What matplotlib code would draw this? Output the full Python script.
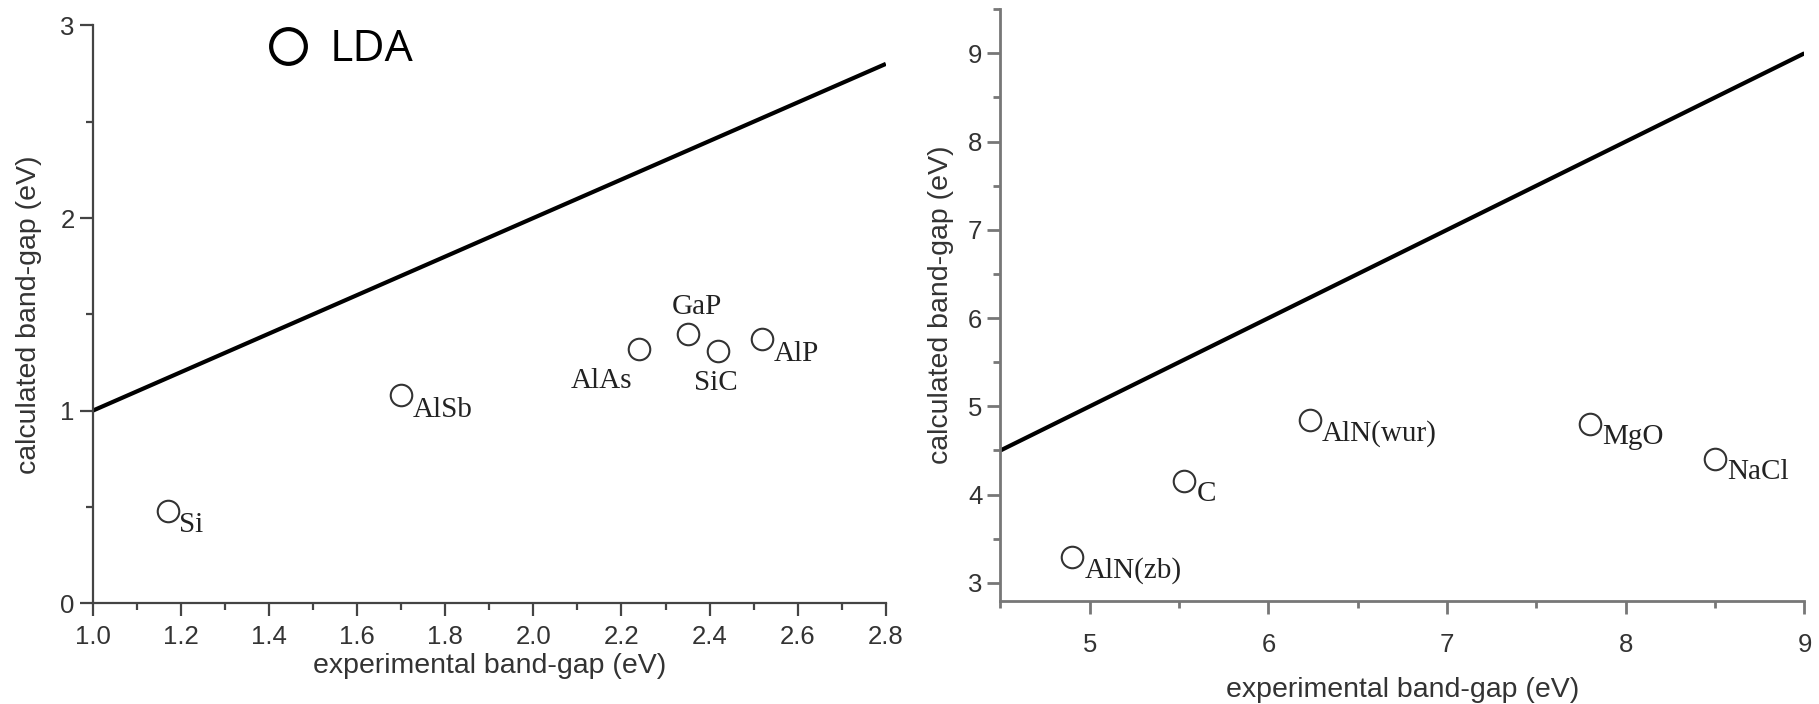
import numpy as np
import matplotlib.pyplot as plt
from matplotlib.lines import Line2D
from matplotlib.ticker import MultipleLocator

# LDA band gaps vs experiment, small-gap and wide-gap materials
names_1 = ['Si', 'AlSb', 'AlAs', 'GaP', 'SiC', 'AlP']
exp_1 = [1.17, 1.70, 2.24, 2.35, 2.42, 2.52]
lda_1 = [0.48, 1.08, 1.32, 1.40, 1.31, 1.37]

names_2 = ['AlN(zb)', 'C', 'AlN(wur)', 'MgO', 'NaCl']
exp_2 = [4.90, 5.53, 6.23, 7.80, 8.50]
lda_2 = [3.29, 4.15, 4.84, 4.80, 4.40]

# label offsets in points (dx, dy, ha, va)
offs_1 = {'Si': (8, -1, 'left', 'top'), 'AlSb': (8, -1, 'left', 'top'),
          'AlAs': (-5, -14, 'right', 'top'), 'GaP': (7, 14, 'center', 'baseline'),
          'SiC': (-2, -14, 'center', 'top'), 'AlP': (8, -1, 'left', 'top')}
offs_2 = {n: (9, 0, 'left', 'top') for n in names_2}

plt.rcParams['font.family'] = ['Liberation Sans', 'DejaVu Sans']

fig = plt.figure(figsize=(18.19, 7.04), dpi=100)
ax1 = fig.add_axes([0.051, 0.143, 0.436, 0.821])
ax2 = fig.add_axes([0.550, 0.147, 0.442, 0.840])


def style(ax, axc, lw, xpad, xlpad, ylpad):
    for s in ['top', 'right']:
        ax.spines[s].set_visible(False)
    for s in ['left', 'bottom']:
        ax.spines[s].set_color(axc)
        ax.spines[s].set_linewidth(lw)
    ax.tick_params(which='both', direction='out', color=axc, width=lw,
                   labelsize=18.5, labelcolor='#333333')
    ax.tick_params(which='major', length=9.5)
    ax.tick_params(which='minor', length=5)
    ax.tick_params(axis='x', pad=xpad)
    ax.set_xlabel('experimental band-gap (eV)', fontsize=20.5, color='#333333', labelpad=xlpad)
    ax.set_ylabel('calculated band-gap (eV)', fontsize=20.5, color='#333333', labelpad=ylpad)


def points(ax, xs, ys, names, offs):
    ax.plot(xs, ys, 'o', ls='none', ms=15.5, mfc='none', mec='#333333', mew=1.5, clip_on=False)
    for x, y, n in zip(xs, ys, names):
        dx, dy, ha, va = offs[n]
        ax.annotate(n, (x, y), xytext=(dx, dy), textcoords='offset points',
                    ha=ha, va=va, fontsize=21, family='Liberation Serif', color='#222222')


# left panel
x = np.array([1.0, 2.8])
ax1.plot(x, x, color='black', lw=3, solid_capstyle='butt')
points(ax1, exp_1, lda_1, names_1, offs_1)
ax1.set_xlim(1.0, 2.8)
ax1.set_ylim(0, 3)
ax1.xaxis.set_major_locator(MultipleLocator(0.2))
ax1.xaxis.set_minor_locator(MultipleLocator(0.1))
ax1.yaxis.set_major_locator(MultipleLocator(1))
ax1.yaxis.set_minor_locator(MultipleLocator(0.5))
ax1.set_xticklabels([f'{v:.1f}' for v in ax1.get_xticks()])
style(ax1, '#444444', 1.6, 6, 3, 13)

handle = Line2D([], [], ls='none', marker='o', ms=25, mfc='none', mec='black', mew=3)
fig.legend([handle], ['LDA'], loc='center left', bbox_to_anchor=(0.146, 0.929),
           frameon=False, handlelength=1.0, handletextpad=0.45, borderpad=0,
           borderaxespad=0, prop={'family': 'Open Sans', 'size': 32})

# right panel
x = np.array([4.5, 9.0])
ax2.plot(x, x, color='black', lw=3, solid_capstyle='butt')
points(ax2, exp_2, lda_2, names_2, offs_2)
ax2.set_xlim(4.5, 9)
ax2.set_ylim(2.8, 9.5)
ax2.xaxis.set_major_locator(MultipleLocator(1))
ax2.xaxis.set_minor_locator(MultipleLocator(0.5))
ax2.yaxis.set_major_locator(MultipleLocator(1))
ax2.yaxis.set_minor_locator(MultipleLocator(0.5))
style(ax2, '#777777', 2.0, 14, 14, 10)

fig.savefig('out.png', dpi=100)
